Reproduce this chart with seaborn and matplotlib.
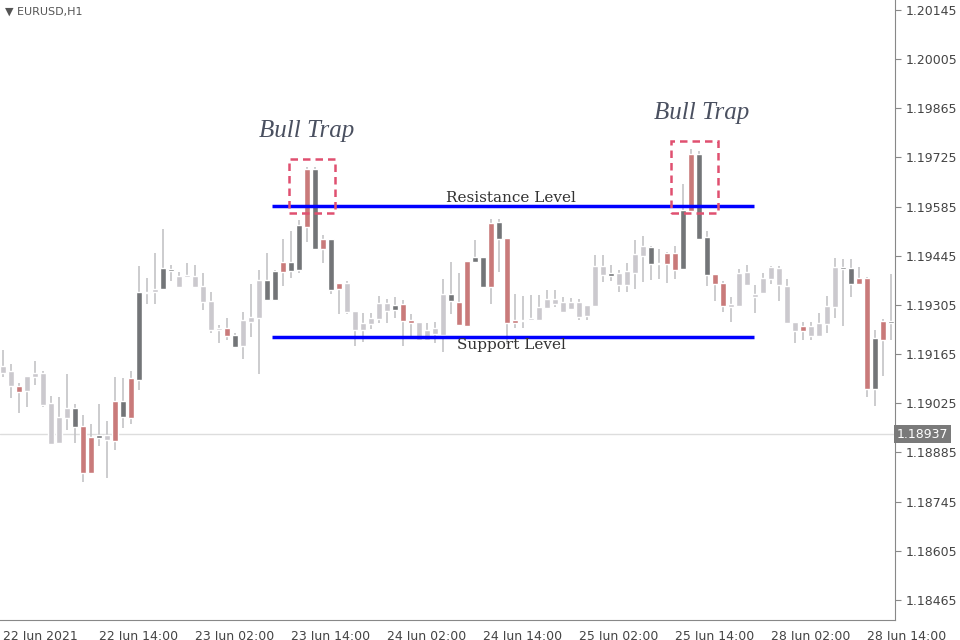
import numpy as np
import pandas as pd
import seaborn as sns
import matplotlib.pyplot as plt
from matplotlib.patches import Rectangle

# candles, in price points (x 1e-5)
body_top = [119131, 119117, 119074, 119103, 119111, 119111, 119026, 118986, 119011, 119011,
            118960, 118929, 118935, 118935, 119031, 119031, 119097, 119342, 119342, 119350,
            119410, 119407, 119387, 119390, 119387, 119359, 119316, 119239, 119239, 119219,
            119262, 119271, 119376, 119376, 119402, 119427, 119427, 119533, 119692, 119692,
            119493, 119493, 119367, 119367, 119288, 119254, 119268, 119310, 119310, 119305,
            119308, 119262, 119256, 119234, 119239, 119336, 119336, 119313, 119430, 119441,
            119441, 119538, 119541, 119496, 119262, 119262, 119268, 119299, 119322, 119322,
            119313, 119313, 119313, 119305, 119416, 119416, 119396, 119396, 119402, 119450,
            119473, 119470, 119424, 119453, 119453, 119575, 119735, 119735, 119498, 119393,
            119367, 119308, 119396, 119399, 119336, 119382, 119413, 119410, 119359, 119256,
            119245, 119245, 119254, 119302, 119413, 119413, 119410, 119382, 119382, 119211,
            119259, 119259]
body_bot = [119111, 119074, 119057, 119060, 119100, 119020, 118909, 118912, 118983, 118957,
            118826, 118826, 118926, 118920, 118918, 118986, 118983, 119091, 119339, 119342,
            119350, 119402, 119356, 119385, 119356, 119313, 119234, 119234, 119217, 119185,
            119188, 119256, 119268, 119319, 119319, 119399, 119402, 119404, 119527, 119464,
            119464, 119348, 119350, 119285, 119234, 119234, 119251, 119265, 119288, 119291,
            119259, 119254, 119205, 119205, 119222, 119219, 119316, 119248, 119245, 119427,
            119356, 119356, 119493, 119254, 119254, 119259, 119262, 119262, 119296, 119308,
            119285, 119293, 119271, 119273, 119302, 119390, 119387, 119362, 119362, 119396,
            119444, 119422, 119422, 119422, 119404, 119407, 119572, 119493, 119390, 119365,
            119302, 119299, 119302, 119362, 119328, 119339, 119379, 119362, 119254, 119231,
            119231, 119217, 119217, 119251, 119299, 119407, 119365, 119365, 119066, 119066,
            119205, 119254]
high = [119177, 119137, 119083, 119103, 119145, 119117, 119046, 119043, 119108, 119023,
        118992, 118966, 119023, 118974, 119100, 119097, 119117, 119416, 119382, 119453,
        119521, 119419, 119399, 119424, 119419, 119396, 119342, 119248, 119268, 119225,
        119285, 119365, 119404, 119453, 119404, 119493, 119515, 119547, 119698, 119698,
        119504, 119493, 119367, 119373, 119288, 119282, 119282, 119330, 119322, 119328,
        119319, 119279, 119256, 119254, 119256, 119379, 119427, 119396, 119430, 119490,
        119441, 119550, 119550, 119496, 119336, 119330, 119333, 119333, 119348, 119348,
        119328, 119325, 119322, 119305, 119447, 119447, 119419, 119404, 119424, 119490,
        119501, 119473, 119464, 119456, 119473, 119649, 119749, 119743, 119515, 119393,
        119373, 119328, 119407, 119419, 119362, 119396, 119416, 119416, 119379, 119256,
        119256, 119256, 119282, 119330, 119439, 119436, 119436, 119413, 119385, 119234,
        119265, 119393]
low = [119100, 119040, 118997, 119014, 119077, 119014, 118909, 118909, 118949, 118912,
       118801, 118826, 118903, 118812, 118892, 118955, 118966, 119063, 119308, 119308,
       119348, 119373, 119353, 119385, 119356, 119291, 119225, 119197, 119205, 119182,
       119151, 119214, 119108, 119319, 119316, 119359, 119382, 119396, 119484, 119464,
       119424, 119336, 119279, 119279, 119188, 119199, 119236, 119254, 119254, 119268,
       119188, 119208, 119205, 119205, 119197, 119171, 119279, 119248, 119245, 119427,
       119356, 119308, 119399, 119194, 119239, 119239, 119262, 119262, 119296, 119299,
       119285, 119291, 119262, 119262, 119302, 119370, 119373, 119342, 119342, 119350,
       119370, 119376, 119379, 119367, 119379, 119407, 119572, 119493, 119359, 119316,
       119285, 119256, 119302, 119362, 119282, 119339, 119365, 119316, 119254, 119197,
       119205, 119205, 119217, 119225, 119268, 119245, 119328, 119365, 119043, 119017,
       119103, 119205]
kind = list("llrlllllldrrdlrdrddlddllllllrdlllddrddrdr"
            "drlllllldrrlllldrrddrdrrdlllllllllldllll"
            "ddrrdrddrrlllllllllrllllddrrdrddr")
tick_idx = [0, 12, 24, 36, 48, 60, 72, 84, 96, 108]
tick_txt = ["22 Jun 2021", "22 Jun 14:00", "23 Jun 02:00", "23 Jun 14:00", "24 Jun 02:00",
            "24 Jun 14:00", "25 Jun 02:00", "25 Jun 14:00", "28 Jun 02:00", "28 Jun 14:00"]
resistance = 1.19586
support = 1.19215
last_price = 1.18937

df = pd.DataFrame({"top": np.array(body_top) / 1e5, "bot": np.array(body_bot) / 1e5,
                   "high": np.array(high) / 1e5, "low": np.array(low) / 1e5,
                   "kind": kind[:len(body_top)]})
df["i"] = np.arange(len(df))
colors = {"d": "#737578", "r": "#c97a7a", "l": "#cbc9ce"}

sns.set_style("white")
plt.rcParams["font.family"] = ["DejaVu Sans"]
fig = plt.figure(figsize=(9.6, 6.4), dpi=100)
ax = fig.add_axes([0, 20 / 640, 895 / 960, 620 / 640])

ax.axhline(last_price, color="#dddddd", lw=1, zorder=0)
ax.vlines(df["i"], df["low"], df["high"], color="#c3c3c6", lw=1.2, zorder=1)
h = (df["top"] - df["bot"]).clip(lower=0.000012)
ax.bar(df["i"], h, bottom=df["bot"], width=0.72,
       color=[colors[k] for k in df["kind"]], zorder=2)

ax.hlines([resistance, support], 33.6, 93.9, color="#0000ff", lw=2.5, zorder=3)
ax.text(63.5, resistance + 0.00004, "Resistance Level", ha="center", va="bottom",
        fontsize=11, color="#333333", family="DejaVu Serif")
ax.text(63.5, support - 0.00004, "Support Level", ha="center", va="top",
        fontsize=11, color="#333333", family="DejaVu Serif")

for x0, x1, y0, y1 in [(35.75, 41.5, 1.19567, 1.19720), (83.5, 89.4, 1.19567, 1.19772)]:
    ax.add_patch(Rectangle((x0, y0), x1 - x0, y1 - y0, fill=False, ec="#e05070",
                           lw=1.8, ls=(0, (3, 2)), zorder=4))
ax.text(38.0, 1.19800, "Bull Trap", ha="center", va="center", fontsize=18,
        color="#4a5060", family="Liberation Serif", style="italic")
ax.text(87.3, 1.19850, "Bull Trap", ha="center", va="center", fontsize=18,
        color="#4a5060", family="Liberation Serif", style="italic")

ax.set_xlim(-0.375, 111.5)
ax.set_ylim(1.18408, 1.20173)
ax.yaxis.tick_right()
yt = np.round(np.arange(1.18465, 1.20146, 0.0014), 5)
ax.set_yticks(yt)
ax.set_yticklabels([f"{v:.5f}" for v in yt], fontsize=9, color="#444444")
ax.set_xticks(tick_idx)
ax.set_xticklabels(tick_txt, fontsize=9, color="#444444", ha="left")
ax.tick_params(axis="both", length=4, color="#888888", direction="out")
for s in ["top", "left"]:
    ax.spines[s].set_visible(False)
for s in ["right", "bottom"]:
    ax.spines[s].set_color("#888888")
ax.text(1.002, last_price, "1.18937", transform=ax.get_yaxis_transform(), fontsize=9,
        color="white", va="center", ha="left",
        bbox=dict(boxstyle="square,pad=0.2", fc="#7a7a7a", ec="none"))
ax.text(0.006, 0.99, "\u25bc EURUSD,H1", transform=ax.transAxes, fontsize=8,
        color="#555555", va="top")

fig.savefig("out.png", dpi=100)
